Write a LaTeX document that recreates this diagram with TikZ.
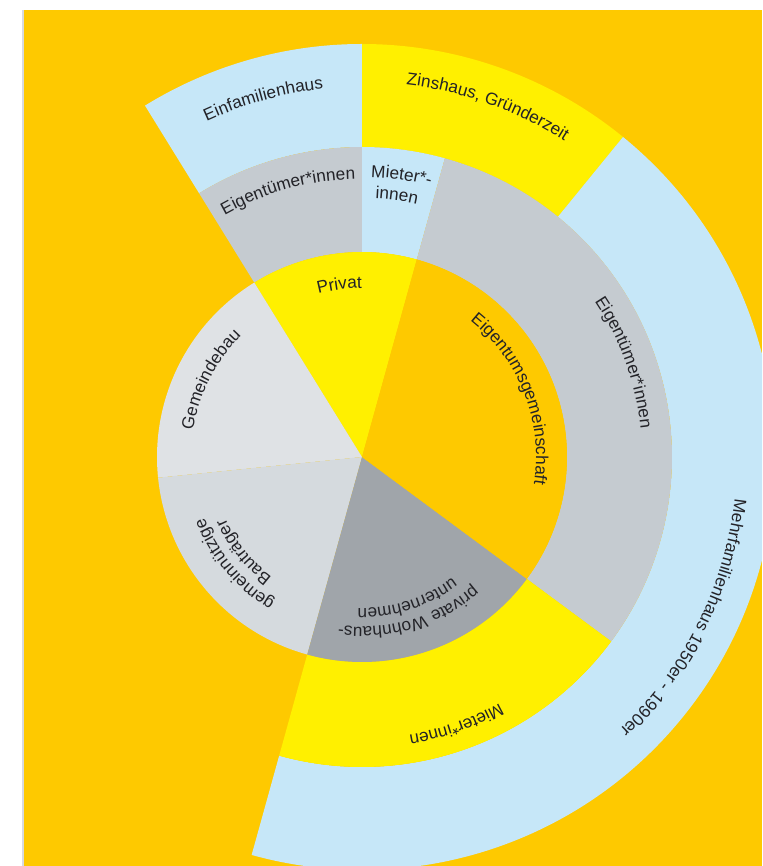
\documentclass[tikz,border=0pt]{standalone}
\usepackage{fontspec}
\setmainfont{Liberation Sans}
\usetikzlibrary{decorations.text}

\definecolor{bgOrange}{RGB}{254,201,0}
\definecolor{sunYellow}{RGB}{255,240,0}
\definecolor{skyBlue}{RGB}{198,231,248}
\definecolor{ringGray}{RGB}{197,203,208}
\definecolor{paleGray}{RGB}{223,226,229}
\definecolor{softGray}{RGB}{213,218,222}
\definecolor{slateGray}{RGB}{160,165,170}
\definecolor{edgeGray}{RGB}{216,218,224}
\definecolor{inkGray}{RGB}{35,35,40}

\tikzset{
  curvedlabel/.style={decorate, decoration={text along path, text align=center, text color=inkGray, text={#1}}}
}

\begin{document}
\fontsize{9.8}{11.5}\selectfont
\begin{tikzpicture}[x=0.02cm,y=0.02cm]
  % Page and margin
  \useasboundingbox (0,0) rectangle (762,866);
  \fill[white] (0,0) rectangle (762,866);
  \fill[edgeGray] (22,0) rectangle (24,856);
  \fill[bgOrange] (24,0) rectangle (762,856);
  \coordinate (O) at (362,409);
  \begin{scope}
    \clip (24,0) rectangle (762,856);
    \begin{scope}[shift={(O)}]
      % Outer ring: building types
      \foreach \a/\b/\c in {90/121.7/skyBlue, 50.8/90/sunYellow, -105.5/50.8/skyBlue} {
        \fill[\c] (\a:310) arc[start angle=\a, end angle=\b, radius=310]
          -- (\b:413) arc[start angle=\b, end angle=\a, radius=413] -- cycle;
      }
      % Middle ring: owners and tenants
      \foreach \a/\b/\c in {90/121.7/ringGray, 74.5/90/skyBlue, -36.5/74.5/ringGray, -105.5/-36.5/sunYellow} {
        \fill[\c] (\a:205) arc[start angle=\a, end angle=\b, radius=205]
          -- (\b:310) arc[start angle=\b, end angle=\a, radius=310] -- cycle;
      }
      % Inner pie
      \foreach \a/\b/\c in {74.5/121.7/sunYellow, 121.7/185.8/paleGray, 185.8/254.5/softGray, 254.5/323.5/slateGray, -36.5/74.5/bgOrange} {
        \fill[\c] (0,0) -- (\a:205) arc[start angle=\a, end angle=\b, radius=205] -- cycle;
      }

      % Labels, outer ring
      \path[curvedlabel={Einfamilienhaus}] (135.4:370) arc[start angle=135.4, end angle=75.4, radius=370];
      \path[curvedlabel={Zinshaus, Gründerzeit}] (100.3:375) arc[start angle=100.3, end angle=40.3, radius=375];
      \path[curvedlabel={Mehrfamilienhaus 1950er - 1990er}] (13.5:375) arc[start angle=13.5, end angle=-66.5, radius=375];
      % Labels, middle ring
      \path[curvedlabel={Eigentümer*innen}] (140.5:278) arc[start angle=140.5, end angle=70.5, radius=278];
      \path[curvedlabel={Mieter*-}] (107:280) arc[start angle=107, end angle=57, radius=280];
      \path[curvedlabel={innen}] (107.4:259) arc[start angle=107.4, end angle=57.4, radius=259];
      \path[curvedlabel={Eigentümer*innen}] (59.8:280) arc[start angle=59.8, end angle=-20.2, radius=280];
      \path[curvedlabel={Mieter*innen}] (-40.6:282) arc[start angle=-40.6, end angle=-100.6, radius=282];
      % Labels, inner pie
      \path[curvedlabel={Privat}] (127.5:169) arc[start angle=127.5, end angle=67.5, radius=169];
      \path[curvedlabel={Gemeindebau}] (192.9:171) arc[start angle=192.9, end angle=112.9, radius=171];
      \path[curvedlabel={gemeinnützige}] (265:169) arc[start angle=265, end angle=175, radius=169];
      \path[curvedlabel={Bauträger}] (263.7:150) arc[start angle=263.7, end angle=173.7, radius=150];
      \path[curvedlabel={private Wohnhaus-}] (-28.5:170) arc[start angle=-28.5, end angle=-118.5, radius=170];
      \path[curvedlabel={unternehmen}] (-27.4:151) arc[start angle=-27.4, end angle=-117.4, radius=151];
      \path[curvedlabel={Eigentumsgemeinschaft}] (71.3:174) arc[start angle=71.3, end angle=-28.7, radius=174];
    \end{scope}
  \end{scope}
\end{tikzpicture}
\end{document}
